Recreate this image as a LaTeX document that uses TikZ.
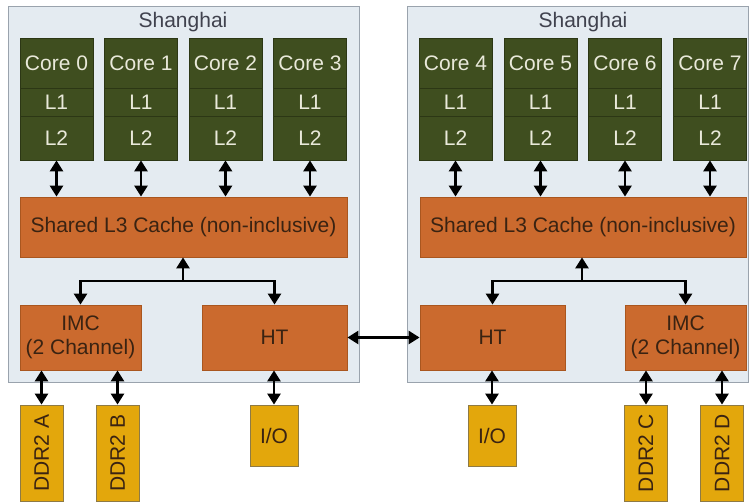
\documentclass[tikz,border=0pt]{standalone}
\usepackage{fontspec}
\setmainfont{Liberation Sans}
\usetikzlibrary{arrows.meta}

\definecolor{chipbg}{HTML}{E4EBF1}
\definecolor{chipline}{HTML}{9AA3AD}
\definecolor{titlegray}{HTML}{40424E}
\definecolor{coregreen}{HTML}{3F4E1F}
\definecolor{coreline}{HTML}{2C3715}
\definecolor{coretext}{HTML}{E9E9DA}
\definecolor{unitorange}{HTML}{CB6A2E}
\definecolor{unitline}{HTML}{A9561F}
\definecolor{unittext}{HTML}{3A2312}
\definecolor{memyellow}{HTML}{E3A70C}
\definecolor{memline}{HTML}{8E7A45}

\begin{document}
\begin{tikzpicture}[x=1pt, y=-1pt, font=\fontsize{21}{24}\selectfont]
    \tikzstyle{chip}=[draw=chipline, fill=chipbg, line width=1.2pt, inner sep=0pt]
    \tikzstyle{corepart}=[draw=coreline, fill=coregreen, text=coretext, minimum width=73pt, inner sep=0pt, line width=0.8pt]
    \tikzstyle{unit}=[draw=unitline, fill=unitorange, text=unittext, inner sep=0pt, align=center, line width=0.8pt]
    \tikzstyle{mem}=[draw=memline, fill=memyellow, text=unittext, inner sep=0pt, line width=0.8pt]
    \tikzstyle{link}=[line width=2.6pt, {Triangle[length=11pt,width=13pt]}-{Triangle[length=11pt,width=13pt]}]
    \tikzstyle{uplink}=[line width=2.6pt, -{Triangle[length=11pt,width=13pt]}]

    \useasboundingbox (0,0) rectangle (750,502);

    % the two sockets
    \node[chip, minimum width=351pt, minimum height=376pt, anchor=north west] (chipL) at (8,6) {};
    \node[chip, minimum width=341pt, minimum height=376pt, anchor=north west] (chipR) at (407,6) {};
    \node[text=titlegray] (titleL) at (183,22) {Shanghai};
    \node[text=titlegray] (titleR) at (583,22) {Shanghai};

    % shared caches
    \node[unit, minimum width=327pt, minimum height=60pt] (l3L) at (183.5,227) {Shared L3 Cache (non-inclusive)};
    \node[unit, minimum width=326pt, minimum height=60pt] (l3R) at (583,227) {Shared L3 Cache (non-inclusive)};

    % cores
    \foreach \n/\x/\s in {0/56.5/L, 1/141/L, 2/225.5/L, 3/310/L, 4/455.5/R, 5/540.5/R, 6/625/R, 7/710/R} {
        \node[corepart, minimum height=50pt] (core\n) at (\x,63) {Core \n};
        \node[corepart, minimum height=28pt] (l1\n) at (\x,102) {L1};
        \node[corepart, minimum height=44pt] (l2\n) at (\x,138) {L2};
        \draw[link] (l2\n.south) -- (l2\n.south |- l3\s.north);
    }

    % memory controllers and HyperTransport
    \node[unit, minimum width=121pt, minimum height=65pt] (imcL) at (80.5,337.5) {IMC\\(2 Channel)};
    \node[unit, minimum width=145pt, minimum height=65pt] (htL) at (274.5,337.5) {HT};
    \node[unit, minimum width=145pt, minimum height=65pt] (htR) at (492.5,337.5) {HT};
    \node[unit, minimum width=121pt, minimum height=65pt] (imcR) at (685.5,337.5) {IMC\\(2 Channel)};

    \coordinate (busL) at (183,281);
    \coordinate (busR) at (582,281);
    \draw[uplink] (busL) -- (busL |- l3L.south);
    \draw[uplink] (busR) -- (busR |- l3R.south);
    \draw[link] (imcL.north) |- (busL) -| (htL.north);
    \draw[link] (htR.north) |- (busR) -| (imcR.north);
    \draw[link] (htL.east) -- (htR.west);

    % off-chip
    \node[mem, minimum width=43pt, minimum height=96pt] (ddrA) at (41.5,453) {\rotatebox{90}{DDR2 A}};
    \node[mem, minimum width=43pt, minimum height=96pt] (ddrB) at (117.5,453) {\rotatebox{90}{DDR2 B}};
    \node[mem, minimum width=48pt, minimum height=61pt] (ioL) at (274,435.5) {I/O};
    \node[mem, minimum width=48pt, minimum height=61pt] (ioR) at (492,435.5) {I/O};
    \node[mem, minimum width=43pt, minimum height=96pt] (ddrC) at (646,453) {\rotatebox{90}{DDR2 C}};
    \node[mem, minimum width=43pt, minimum height=96pt] (ddrD) at (722,453) {\rotatebox{90}{DDR2 D}};

    \draw[link] (ddrA.north) -- (ddrA.north |- imcL.south);
    \draw[link] (ddrB.north) -- (ddrB.north |- imcL.south);
    \draw[link] (ioL.north) -- (ioL.north |- htL.south);
    \draw[link] (ioR.north) -- (ioR.north |- htR.south);
    \draw[link] (ddrC.north) -- (ddrC.north |- imcR.south);
    \draw[link] (ddrD.north) -- (ddrD.north |- imcR.south);
\end{tikzpicture}
\end{document}
